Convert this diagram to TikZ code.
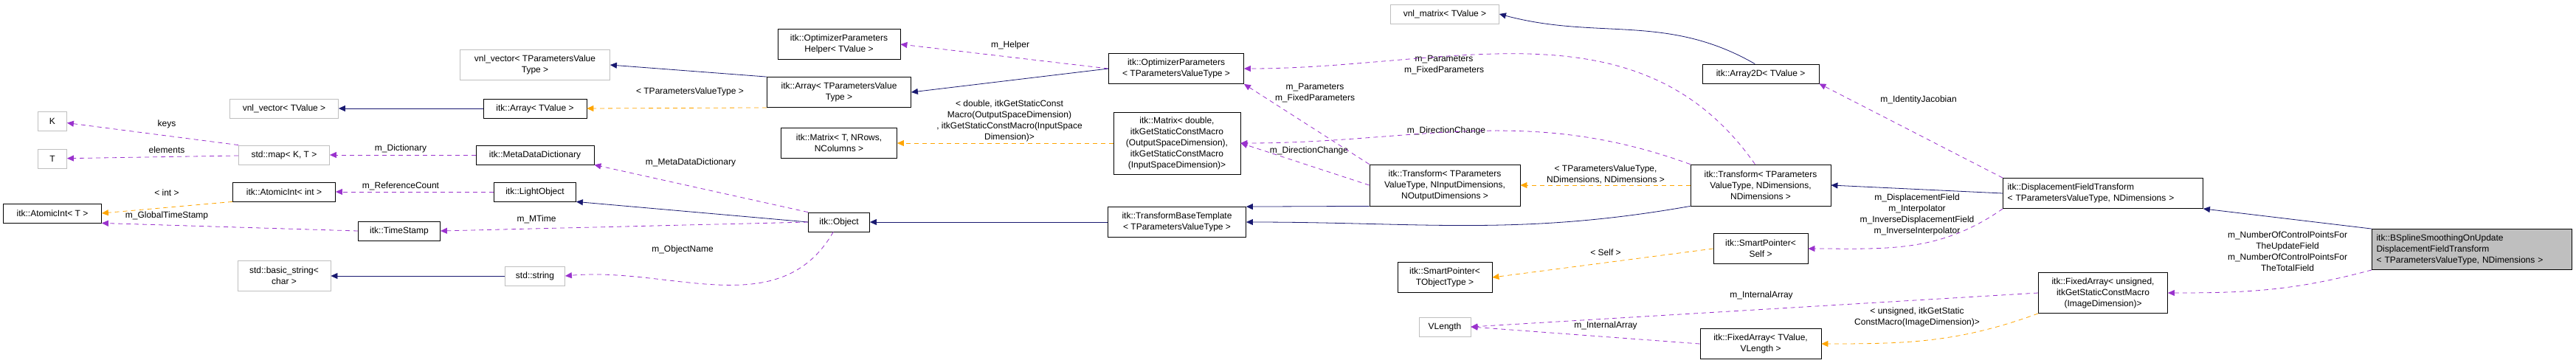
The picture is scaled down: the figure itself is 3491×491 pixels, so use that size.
\documentclass[tikz,border=0pt]{standalone}
\usepackage{fontspec}
\setmainfont{Liberation Sans}
\usetikzlibrary{arrows.meta}
\definecolor{inhColor}{RGB}{25, 25, 112}
\definecolor{memColor}{RGB}{154, 50, 205}
\definecolor{tplColor}{RGB}{255, 165, 0}
\definecolor{undocColor}{RGB}{191, 191, 191}

\begin{document}
\begin{tikzpicture}[x=1pt, y=-1pt,
    cls/.style={rectangle, draw=black, thick, fill=white, font=\fontsize{12}{15}\selectfont, align=center, inner sep=2pt, minimum height=26pt},
    ext/.style={cls, draw=undocColor},
    lbl/.style={font=\fontsize{12}{15}\selectfont, align=center, inner sep=0pt},
    inh/.style={draw=inhColor, thick, -{Triangle[length=9pt, width=8pt]}},
    mem/.style={draw=memColor, thick, dashed, dash pattern=on 6pt off 5pt, -{Triangle[length=9pt, width=8pt]}},
    tpl/.style={draw=tplColor, thick, dashed, dash pattern=on 6pt off 5pt, -{Triangle[length=9pt, width=8pt]}}]
    \useasboundingbox (0,0) rectangle (3491,491);
    % Classes
    \node[ext, minimum width=39pt] (keyK) at (71,164) {K};
    \node[ext, minimum width=39pt] (valT) at (71,215) {T};
    \node[cls, minimum width=133pt] (atomicT) at (71,289) {itk::AtomicInt< T >};
    \node[ext, minimum width=147pt] (vnlVec) at (385,147) {vnl\_vector< TValue >};
    \node[ext, minimum width=123pt] (stdMap) at (385,210) {std::map< K, T >};
    \node[cls, minimum width=139pt] (atomicInt) at (385,260) {itk::AtomicInt< int >};
    \node[ext, minimum width=126pt, minimum height=41pt] (basicStr) at (385,374) {std::basic\_string<\\char >};
    \node[cls, minimum width=111pt] (timeStamp) at (541,313) {itk::TimeStamp};
    \node[ext, minimum width=203pt, minimum height=41pt] (vnlVecP) at (725,88) {vnl\_vector< TParametersValue\\Type >};
    \node[cls, minimum width=140pt] (arrayV) at (725,147) {itk::Array< TValue >};
    \node[cls, minimum width=160pt] (metaDict) at (725,210) {itk::MetaDataDictionary};
    \node[cls, minimum width=111pt] (lightObj) at (725,260) {itk::LightObject};
    \node[ext, minimum width=81pt] (stdStr) at (725,374) {std::string};
    \node[cls, minimum width=166pt, minimum height=41pt] (optHelper) at (1137,60) {itk::OptimizerParameters\\Helper< TValue >};
    \node[cls, minimum width=195pt, minimum height=41pt] (arrayP) at (1137,125) {itk::Array< TParametersValue\\Type >};
    \node[cls, minimum width=157pt, minimum height=41pt] (matrixT) at (1137,194) {itk::Matrix< T, NRows,\\NColumns >};
    \node[cls, minimum width=83pt] (object) at (1137,301) {itk::Object};
    \node[cls, minimum width=183pt, minimum height=41pt] (optParams) at (1594,93) {itk::OptimizerParameters\\< TParametersValueType >};
    \node[cls, minimum width=172pt, minimum height=84pt] (matrixD) at (1595,194) {itk::Matrix< double,\\itkGetStaticConstMacro\\(OutputSpaceDimension),\\itkGetStaticConstMacro\\(InputSpaceDimension)>};
    \node[cls, minimum width=187pt, minimum height=41pt] (baseTpl) at (1595,301) {itk::TransformBaseTemplate\\< TParametersValueType >};
    \node[ext, minimum width=147pt] (vnlMat) at (1958,19) {vnl\_matrix< TValue >};
    \node[cls, minimum width=204pt, minimum height=56pt] (transIO) at (1958,251) {itk::Transform< TParameters\\ValueType, NInputDimensions,\\NOutputDimensions >};
    \node[cls, minimum width=128pt, minimum height=41pt] (smartObj) at (1958,376) {itk::SmartPointer<\\TObjectType >};
    \node[ext, minimum width=70pt] (vLength) at (1958,443) {VLength};
    \node[cls, minimum width=158pt] (array2D) at (2386,100) {itk::Array2D< TValue >};
    \node[cls, minimum width=190pt, minimum height=56pt] (transND) at (2386,251) {itk::Transform< TParameters\\ValueType, NDimensions,\\NDimensions >};
    \node[cls, minimum width=128pt, minimum height=41pt] (smartSelf) at (2386,337) {itk::SmartPointer<\\Self >};
    \node[cls, minimum width=164pt, minimum height=41pt] (fixedV) at (2386,466) {itk::FixedArray< TValue,\\VLength >};
    \node[cls, minimum width=271pt, minimum height=41pt, align=left, text width=259pt] (dispField) at (2850,262) {itk::DisplacementFieldTransform\\< TParametersValueType, NDimensions >};
    \node[cls, minimum width=175pt, minimum height=55pt] (fixedU) at (2850,397) {itk::FixedArray< unsigned,\\itkGetStaticConstMacro\\(ImageDimension)>};
    \node[cls, fill=undocColor, minimum width=271pt, minimum height=55pt, align=left, text width=259pt] (bspline) at (3350,338) {itk::BSplineSmoothingOnUpdate\\DisplacementFieldTransform\\< TParametersValueType, NDimensions >};

    % Labels
    \node[lbl] (lKeys) at (226,168) {keys};
    \node[lbl] (lElems) at (226,203) {elements};
    \node[lbl] (lInt) at (226,261) {< int >};
    \node[lbl] (lGlobal) at (226,292) {m\_GlobalTimeStamp};
    \node[lbl] (lDict) at (543,201) {m\_Dictionary};
    \node[lbl] (lRef) at (543,252) {m\_ReferenceCount};
    \node[lbl] (lMTime) at (727,297) {m\_MTime};
    \node[lbl] (lName) at (925,338) {m\_ObjectName};
    \node[lbl] (lMeta) at (936,220) {m\_MetaDataDictionary};
    \node[lbl] (lTplP) at (935,124) {< TParametersValueType >};
    \node[lbl] (lHelper) at (1369,61) {m\_Helper};
    \node[lbl] (lMatrix) at (1368,164) {< double, itkGetStaticConst\\Macro(OutputSpaceDimension)\\, itkGetStaticConstMacro(InputSpace\\Dimension)>};
    \node[lbl] (lParIO) at (1782,126) {m\_Parameters\\m\_FixedParameters};
    \node[lbl] (lDirIO) at (1774,204) {m\_DirectionChange};
    \node[lbl] (lParND) at (1957,88) {m\_Parameters\\m\_FixedParameters};
    \node[lbl] (lDirND) at (1960,177) {m\_DirectionChange};
    \node[lbl] (lTplND) at (2176,236) {< TParametersValueType,\\NDimensions, NDimensions >};
    \node[lbl] (lJacob) at (2600,135) {m\_IdentityJacobian};
    \node[lbl] (lDisp) at (2598,291) {m\_DisplacementField\\m\_Interpolator\\m\_InverseDisplacementField\\m\_InverseInterpolator};
    \node[lbl] (lSelf) at (2176,342) {< Self >};
    \node[lbl] (lIntU) at (2387,400) {m\_InternalArray};
    \node[lbl] (lIntV) at (2176,441) {m\_InternalArray};
    \node[lbl] (lTplU) at (2598,430) {< unsigned, itkGetStatic\\ConstMacro(ImageDimension)>};
    \node[lbl] (lCtrl) at (3100,341) {m\_NumberOfControlPointsFor\\TheUpdateField\\m\_NumberOfControlPointsFor\\TheTotalField};

    % Connectors
    \draw[inh] (arrayV) -- (vnlVec);
    \draw[mem] (stdMap.north west) -- (keyK);
    \draw[mem] (stdMap) -- (valT);
    \draw[mem] (metaDict) -- (stdMap);
    \draw[tpl] (atomicInt.south west) -- (atomicT.east);
    \draw[mem] (lightObj) -- (atomicInt);
    \draw[mem] (timeStamp.west) -- (atomicT.south east);
    \draw[inh] (stdStr) -- (basicStr);
    \draw[inh] (arrayP.north west) -- (vnlVecP.east);
    \draw[tpl] (arrayP.south west) -- (arrayV.east);
    \draw[mem] (object.north west) -- (metaDict.south east);
    \draw[inh] (object.west) -- (lightObj.south east);
    \draw[mem] (object.west) -- (timeStamp.east);
    \draw[mem] (object.240) to[out=240, in=5] (stdStr.east);
    \draw[mem] (optParams.west) -- (optHelper.east);
    \draw[inh] (optParams.west) -- (arrayP.east);
    \draw[tpl] (matrixD.west) -- (matrixT.east);
    \draw[inh] (baseTpl) -- (object);
    \draw[inh] (transIO.south west) -- (baseTpl.north east);
    \draw[mem] (transIO.north west) -- (optParams.south east);
    \draw[mem] (transIO.west) -- (matrixD.east);
    \draw[tpl] (transND.west) -- (transIO.east);
    \draw[inh] (transND.south west) to[out=190, in=0] (baseTpl.east);
    \draw[mem] (transND.north west) to[out=160, in=0] (matrixD.east);
    \draw[mem] (transND.105) to[out=125, in=0] (optParams.east);
    \draw[inh] (array2D.120) to[out=150, in=345] (vnlMat.east);
    \draw[inh] (dispField.west) -- (transND.east);
    \draw[mem] (dispField.north west) -- (array2D.south east);
    \draw[mem] (dispField.south west) to[out=215, in=0] (smartSelf.east);
    \draw[tpl] (smartSelf.west) -- (smartObj.east);
    \draw[mem] (fixedU.west) -- (vLength.east);
    \draw[mem] (fixedV.west) -- (vLength.east);
    \draw[tpl] (fixedU.south west) to[out=200, in=0] (fixedV.east);
    \draw[inh] (bspline.north west) -- (dispField.south east);
    \draw[mem] (bspline.south west) to[out=195, in=0] (fixedU.east);
\end{tikzpicture}
\end{document}
